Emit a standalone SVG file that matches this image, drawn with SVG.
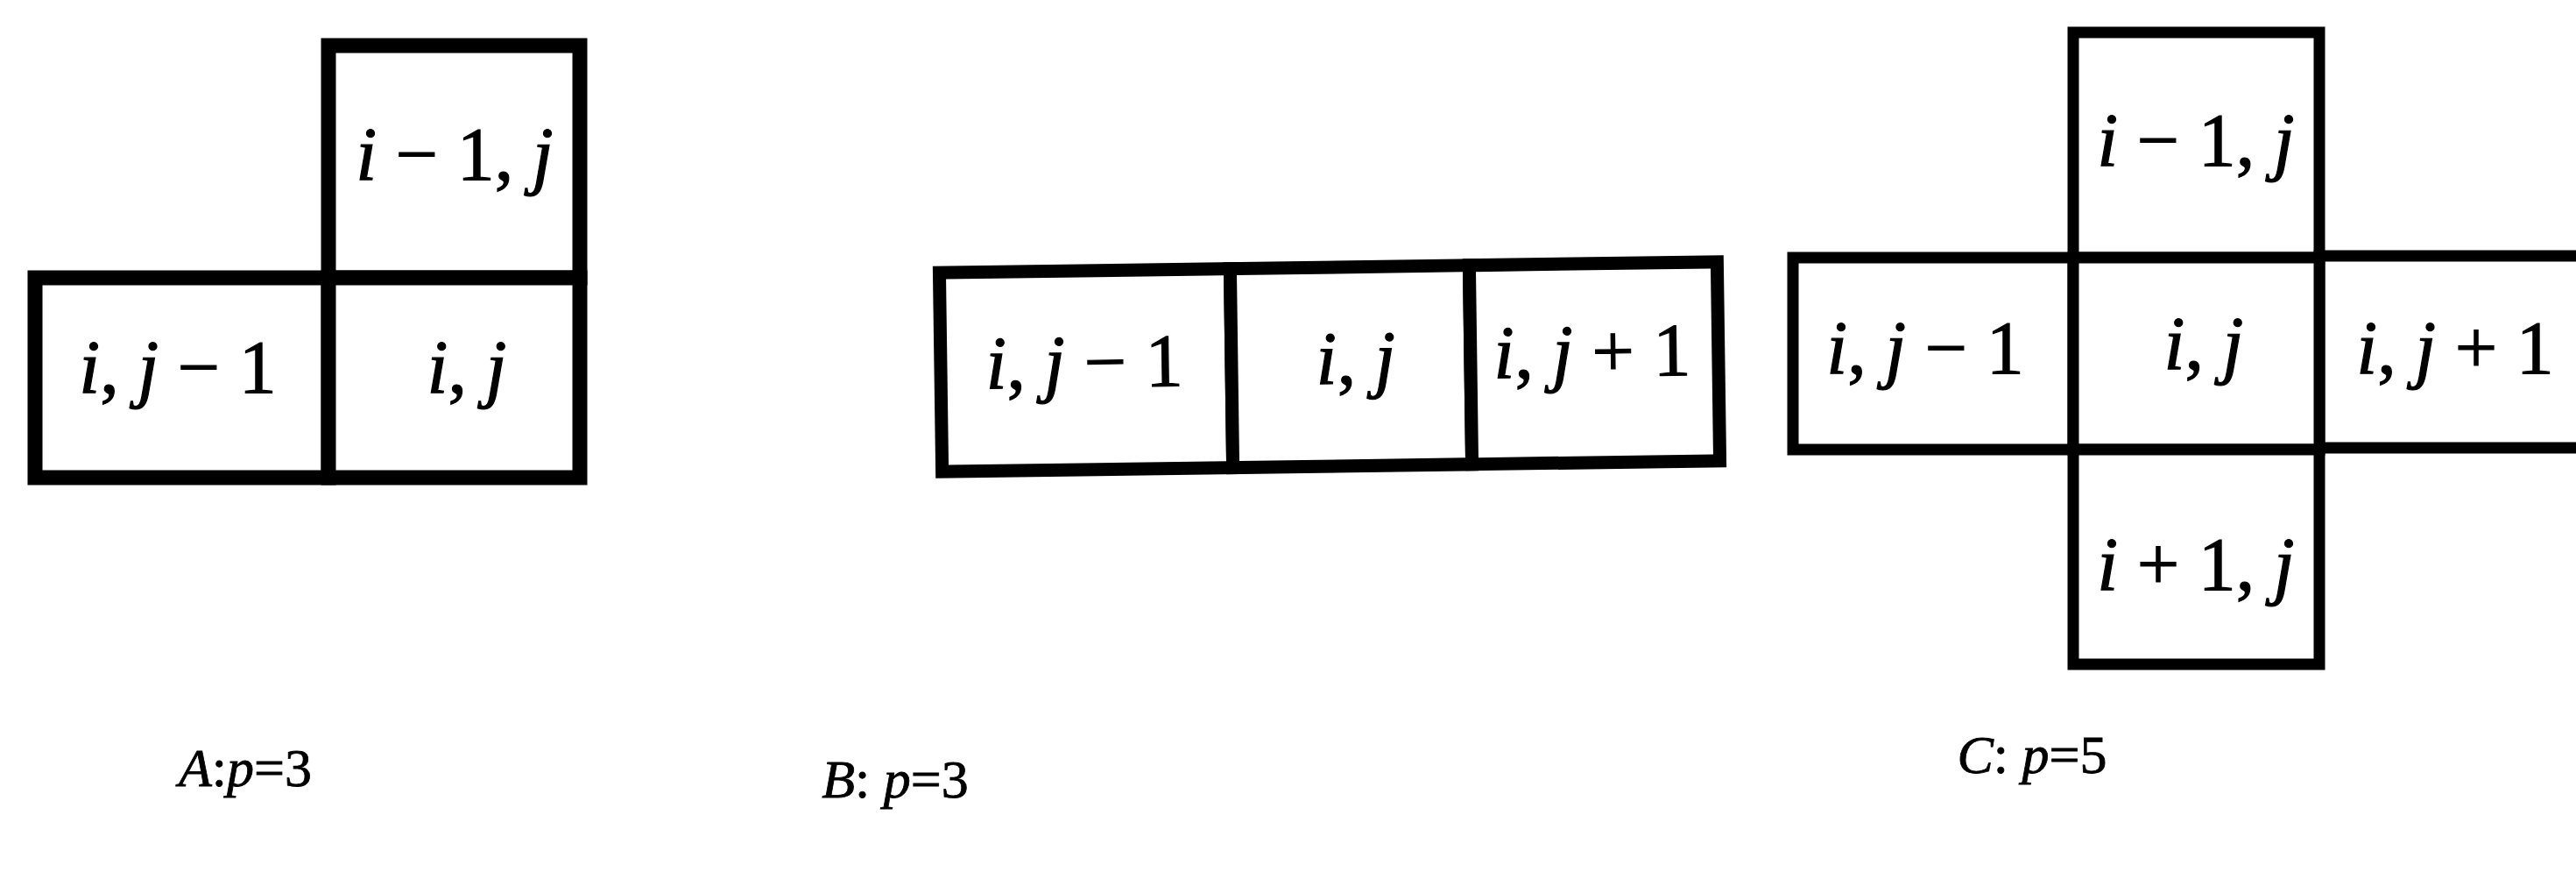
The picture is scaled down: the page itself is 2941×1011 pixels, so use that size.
<svg xmlns="http://www.w3.org/2000/svg" width="2941" height="1011" viewBox="0 0 2941 1011">
<style>
.cell{fill:#fff;stroke:#000;stroke-linejoin:miter}
.a{stroke-width:17}
.b{stroke-width:15}
.c{stroke-width:13}
text{font-family:"Liberation Serif","Times New Roman",serif;font-size:86px;fill:#000;stroke:#000;stroke-width:1.2;text-anchor:middle}
.it{font-style:italic}
.lbl{font-size:62px;stroke-width:0.8}
</style>
<rect width="2941" height="1011" fill="#fff"/>
<g id="A">
  <g id="A-top"><rect class="cell a" x="375" y="52" width="287" height="265"/>
    <text x="519" y="205"><tspan class="it">i</tspan> − 1, <tspan class="it">j</tspan></text></g>
  <g id="A-left"><rect class="cell a" x="40" y="317" width="335" height="228"/>
    <text x="203" y="448"><tspan class="it">i</tspan>, <tspan class="it">j</tspan> − 1</text></g>
  <g id="A-center"><rect class="cell a" x="375" y="317" width="287" height="228"/>
    <text x="533" y="448"><tspan class="it">i</tspan>, <tspan class="it">j</tspan></text></g>
</g>
<g id="B" transform="rotate(-0.8 1518 418)">
  <g id="B-left"><rect class="cell b" x="1074" y="305" width="332" height="227"/>
    <text x="1238" y="438"><tspan class="it">i</tspan>, <tspan class="it">j</tspan> − 1</text></g>
  <g id="B-center"><rect class="cell b" x="1406" y="305" width="273" height="227"/>
    <text x="1548" y="438"><tspan class="it">i</tspan>, <tspan class="it">j</tspan></text></g>
  <g id="B-right"><rect class="cell b" x="1679" y="305" width="283" height="227"/>
    <text x="1818" y="434"><tspan class="it">i</tspan>, <tspan class="it">j</tspan> + 1</text></g>
</g>
<g id="C">
  <g id="C-top"><rect class="cell c" x="2367" y="37" width="281" height="257"/>
    <text x="2507" y="189"><tspan class="it">i</tspan> − 1, <tspan class="it">j</tspan></text></g>
  <g id="C-left"><rect class="cell c" x="2047" y="294" width="320" height="219"/>
    <text x="2198" y="426"><tspan class="it">i</tspan>, <tspan class="it">j</tspan> − 1</text></g>
  <g id="C-right"><rect class="cell c" x="2648" y="292" width="330" height="219"/>
    <text x="2803" y="426"><tspan class="it">i</tspan>, <tspan class="it">j</tspan> + 1</text></g>
  <g id="C-center"><rect class="cell c" x="2367" y="294" width="281" height="219"/>
    <text x="2516" y="421"><tspan class="it">i</tspan>, <tspan class="it">j</tspan></text></g>
  <g id="C-bottom"><rect class="cell c" x="2367" y="513" width="281" height="245"/>
    <text x="2507" y="673"><tspan class="it">i</tspan> + 1, <tspan class="it">j</tspan></text></g>
</g>
<g id="connectors"></g>
<g id="labels">
  <text class="lbl" x="280" y="897"><tspan class="it">A</tspan>:<tspan class="it">p</tspan>=3</text>
  <text class="lbl" x="1022" y="910"><tspan class="it">B</tspan>: <tspan class="it">p</tspan>=3</text>
  <text class="lbl" x="2320" y="882"><tspan class="it">C</tspan>: <tspan class="it">p</tspan>=5</text>
</g>
</svg>
